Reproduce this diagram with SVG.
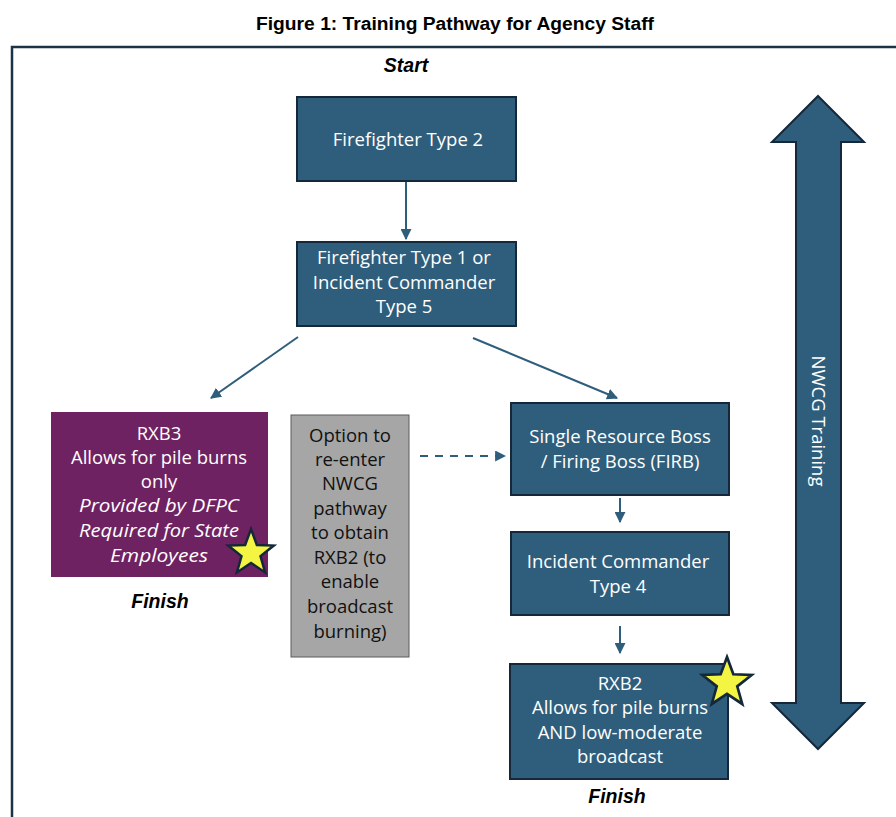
<svg xmlns="http://www.w3.org/2000/svg" width="896" height="817" viewBox="0 0 896 817">
  <style>
    .box { fill: #2e5e7c; stroke: #14283a; stroke-width: 2; }
    .purple { fill: #6f2262; stroke: none; }
    .gray { fill: #a6a6a6; stroke: #5a5a5a; stroke-width: 1; }
    .t { font-family: "Open Sans", "Liberation Sans", Arial, sans-serif; font-size: 18.5px; fill: #ffffff; text-anchor: middle; }
    .dark { fill: #111111; }
    .it { font-style: italic; }
    .lbl { font-family: "Liberation Sans", Arial, sans-serif; font-size: 19.5px; font-weight: bold; font-style: italic; fill: #000; text-anchor: middle; }
    .con { stroke: #2e5e7c; stroke-width: 2; fill: none; }
    .star { fill: #f4f443; stroke: #14283a; stroke-width: 2.5; stroke-linejoin: miter; }
  </style>
  <defs>
    <marker id="ah" viewBox="0 0 10 10" refX="9" refY="5" markerWidth="5.5" markerHeight="5.5" orient="auto">
      <path d="M0,0 L10,5 L0,10 z" fill="#2e5e7c"/>
    </marker>
    <polygon id="star5" points="0,-24 5.88,-8.09 22.83,-7.42 9.51,3.09 14.11,19.42 0,10 -14.11,19.42 -9.51,3.09 -22.83,-7.42 -5.88,-8.09"/>
  </defs>

  <rect width="896" height="817" fill="#ffffff"/>

  <!-- title -->
  <text x="455" y="30" font-family="'Liberation Sans', Arial, sans-serif" font-size="18" font-weight="bold" text-anchor="middle" textLength="398" lengthAdjust="spacingAndGlyphs">Figure 1: Training Pathway for Agency Staff</text>

  <!-- outer frame -->
  <path d="M12,817 L12,47 L896,47" fill="none" stroke="#1c3346" stroke-width="2.5"/>

  <text class="lbl" x="406" y="72">Start</text>

  <!-- connectors -->
  <g id="connectors">
    <line class="con" x1="406" y1="181" x2="406" y2="239" marker-end="url(#ah)"/>
    <line class="con" x1="298" y1="337" x2="211" y2="398" marker-end="url(#ah)"/>
    <line class="con" x1="473" y1="338" x2="617" y2="398" marker-end="url(#ah)"/>
    <line class="con" x1="420" y1="456" x2="505" y2="456" stroke-dasharray="8,7" marker-end="url(#ah)"/>
    <line class="con" x1="620" y1="498" x2="620" y2="522" marker-end="url(#ah)"/>
    <line class="con" x1="620" y1="626" x2="620" y2="653" marker-end="url(#ah)"/>
  </g>

  <g id="ff2">
    <rect class="box" x="297" y="97" width="219" height="84"/>
    <text class="t" x="408" y="146">Firefighter Type 2</text>
  </g>

  <g id="ff1">
    <rect class="box" x="297" y="242" width="219" height="84"/>
    <text class="t" x="404" y="264">Firefighter Type 1 or</text>
    <text class="t" x="404" y="289">Incident Commander</text>
    <text class="t" x="404" y="313">Type 5</text>
  </g>

  <g id="rxb3">
    <rect class="purple" x="51" y="412" width="217" height="165"/>
    <text class="t" x="159" y="440">RXB3</text>
    <text class="t" x="159" y="464">Allows for pile burns</text>
    <text class="t" x="159" y="488">only</text>
    <text class="t it" x="159" y="512" textLength="160" lengthAdjust="spacingAndGlyphs">Provided by DFPC</text>
    <text class="t it" x="159" y="537" textLength="160" lengthAdjust="spacingAndGlyphs">Required for State</text>
    <text class="t it" x="159" y="562" textLength="98" lengthAdjust="spacingAndGlyphs">Employees</text>
    <use href="#star5" class="star" transform="translate(251,553)"/>
  </g>
  <text class="lbl" x="160" y="608">Finish</text>

  <g id="option">
    <rect class="gray" x="291" y="415" width="118" height="242"/>
    <text class="t dark" x="350" y="442">Option to</text>
    <text class="t dark" x="350" y="466">re-enter</text>
    <text class="t dark" x="350" y="490">NWCG</text>
    <text class="t dark" x="350" y="515">pathway</text>
    <text class="t dark" x="350" y="539">to obtain</text>
    <text class="t dark" x="350" y="564">RXB2 (to</text>
    <text class="t dark" x="350" y="588">enable</text>
    <text class="t dark" x="350" y="613">broadcast</text>
    <text class="t dark" x="350" y="638">burning)</text>
  </g>

  <g id="srb">
    <rect class="box" x="511" y="403" width="218" height="92"/>
    <text class="t" x="620" y="443">Single Resource Boss</text>
    <text class="t" x="620" y="468">/ Firing Boss (FIRB)</text>
  </g>

  <g id="ic4">
    <rect class="box" x="511" y="532" width="218" height="83"/>
    <text class="t" x="618" y="568">Incident Commander</text>
    <text class="t" x="618" y="593">Type 4</text>
  </g>

  <g id="rxb2">
    <rect class="box" x="510" y="664" width="218" height="115"/>
    <text class="t" x="620" y="690">RXB2</text>
    <text class="t" x="620" y="714">Allows for pile burns</text>
    <text class="t" x="620" y="739">AND low-moderate</text>
    <text class="t" x="620" y="763">broadcast</text>
    <use href="#star5" class="star" transform="translate(727,683) scale(1.08)"/>
  </g>
  <text class="lbl" x="617" y="803">Finish</text>

  <g id="nwcg">
    <polygon points="818,96 864,142 841,142 841,703 864,703 818,749 772,703 796,703 796,142 772,142" fill="#2e5e7c" stroke="#14283a" stroke-width="2"/>
    <text class="t" transform="translate(812,421) rotate(90)">NWCG Training</text>
  </g>
</svg>
